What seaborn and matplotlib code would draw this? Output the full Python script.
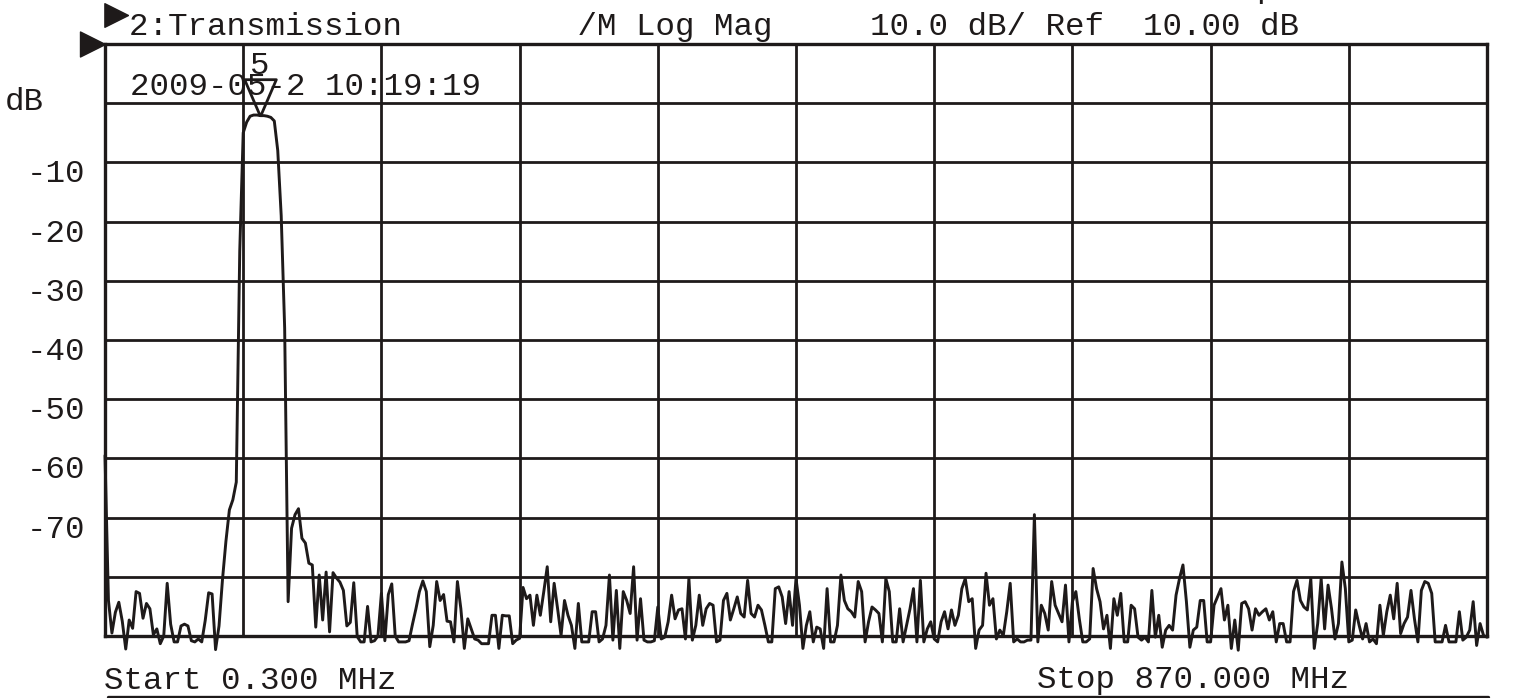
import numpy as np
import pandas as pd
import matplotlib
matplotlib.use('Agg')
import matplotlib.pyplot as plt
import seaborn as sns

# analyzer settings
start_mhz = 0.3
stop_mhz = 870.0
ref_db = 10.0
scale_db = 10.0
n_div = 10

header = '2:Transmission' + ' ' * 9 + '/M Log Mag' + ' ' * 5 + '10.0 dB/' + ' ' + 'Ref  10.00 dB'
stamp = '2009-05-2 10:19:19'
start_label = 'Start 0.300 MHz'
stop_label = 'Stop 870.000 MHz'
y_labels = ['-10', '-20', '-30', '-40', '-50', '-60', '-70']
y_label_values = [-10, -20, -30, -40, -50, -60, -70]
marker_index = 45
marker_name = '5'
trace_name = '2'

# 401-point transmission trace, dB
trace_db = [
    -59.5, -84, -89.5, -86, -84.3, -87.5, -92.2, -87.3, -88.7, -82.5,
    -82.8, -87, -84.5, -85.4, -89.8, -88.8, -91.3, -90, -81.1, -88,
    -91, -91, -88.3, -88, -88.3, -90.8, -91, -90.5, -91, -87.4,
    -82.7, -82.9, -92.3, -88.3, -80.5, -74, -68.7, -67, -64, -25,
    -5, -3.2, -2.2, -2.0, -2.0, -2.1, -2.1, -2.2, -2.4, -3.0,
    -8.0, -19, -38, -84.2, -71.8, -69.5, -68.5, -73.5, -74.3, -77.7,
    -78, -88.5, -79.7, -87.3, -79.2, -89.3, -79.3, -80.2, -80.9, -82.3,
    -88.3, -87.7, -81, -90.1, -91, -91, -85, -91, -90.8, -90,
    -82.8, -90.8, -83, -81.2, -90, -91, -91, -91, -90.8, -88,
    -85.4, -82.5, -80.7, -82.5, -91.8, -88.2, -80.8, -84, -83, -87.5,
    -87.6, -91, -80.8, -85.4, -92.1, -87.1, -88.8, -90.5, -90.7, -91.3,
    -91.3, -91.3, -86.5, -86.5, -92.1, -86.5, -86.6, -86.6, -91.3, -90.7,
    -90.4, -81.8, -83.7, -83.1, -88.2, -83.1, -86.5, -82.5, -78.3, -87.6,
    -81.1, -85.4, -89.9, -84, -86.5, -88.2, -92.1, -84.5, -91, -91,
    -91, -85.9, -85.9, -91, -90.5, -88.2, -79.7, -90.7, -82.3, -92.1,
    -82.5, -84, -86.2, -78.3, -90.7, -83.7, -90.7, -91, -91, -90.8,
    -85.1, -90.5, -90.2, -87.6, -83.1, -87.1, -85.6, -85.4, -90.5, -80.3,
    -90.7, -88.2, -83.1, -88.2, -85.4, -84.5, -84.8, -91, -90.7, -84,
    -82.8, -87.3, -85.4, -83.4, -86.2, -86.8, -80.6, -86.2, -86.8, -84.8,
    -85.6, -88.2, -91, -91, -82, -81.7, -83.4, -87.9, -82.5, -88.2,
    -80.3, -84.8, -92.1, -88.2, -85.9, -91, -88.5, -88.8, -92.1, -82,
    -91, -91, -88.2, -79.7, -84, -85.4, -85.9, -86.8, -80.8, -82.5,
    -91, -87.6, -85.1, -85.6, -86.2, -91, -80.3, -82.5, -91, -91,
    -85.4, -91, -88.2, -85.4, -82, -91, -80.6, -91, -88.8, -87.6,
    -90.5, -91, -87.6, -85.9, -88.8, -85.6, -88.2, -86.5, -82, -80.3,
    -84.2, -83.7, -92.1, -89, -88.2, -79.4, -84.8, -83.7, -90.5, -89,
    -89.9, -85.9, -81.1, -91, -90.5, -91, -91, -90.7, -90.7, -69.5,
    -91, -84.8, -86.2, -89, -80.8, -84.8, -86.2, -87.6, -81.4, -91,
    -84.2, -82.5, -87.1, -91, -91, -90.5, -78.6, -82, -84.2, -88.8,
    -86.5, -92.1, -83.7, -86.5, -82.8, -91, -91, -84.8, -85.4, -90.2,
    -90.7, -90.2, -91, -82.3, -90.2, -86.5, -91.9, -89, -88.2, -89,
    -83.1, -80.3, -78, -84.2, -91.9, -89, -88.5, -84, -84, -91,
    -91, -84.8, -83.4, -82, -87.3, -84.8, -92.1, -87.3, -92.4, -84.5,
    -84.2, -85.4, -89, -85.4, -86.5, -85.9, -85.4, -87.3, -85.9, -91,
    -87.9, -87.9, -91, -91, -82.5, -80.6, -84, -85.1, -85.6, -80.3,
    -92.1, -87.9, -80.3, -88.8, -81.4, -85.4, -90.5, -87.9, -77.5, -82,
    -91, -90.7, -85.6, -88.2, -90.5, -87.9, -91, -90.5, -91.3, -84.8,
    -89.9, -85.9, -83.1, -87.1, -81.1, -89.6, -87.9, -86.8, -82.3, -87.1,
    -91, -82.3, -80.8, -81.1, -82.8, -91, -91, -91, -88.2, -91,
    -91, -91, -85.9, -90.7, -90.2, -89, -84.2, -91.6, -87.9, -89.9,
    -90.2,
]

ink = '#1e1a1a'
W, H = 1520, 698

sns.set_style('white')
plt.rcParams['font.family'] = ['Liberation Mono', 'DejaVu Sans Mono']
fs = 23.4

df = pd.DataFrame({
    'freq': np.linspace(start_mhz, stop_mhz, len(trace_db)),
    'db': trace_db,
})

fig = plt.figure(figsize=(W / 100, H / 100), dpi=100)
ax = fig.add_axes([105 / W, 1 - 636 / H, (1487 - 105) / W, (636 - 44) / H])

sns.lineplot(data=df, x='freq', y='db', ax=ax, color=ink, lw=2.1,
             estimator=None, sort=False, clip_on=False, zorder=5)

bottom_db = ref_db - n_div * scale_db
ax.set_xlim(start_mhz, stop_mhz)
ax.set_ylim(bottom_db, ref_db)
ax.set_xticks(np.linspace(start_mhz, stop_mhz, n_div + 1))
ax.set_yticks(np.linspace(bottom_db, ref_db, n_div + 1))
ax.tick_params(length=0, labelbottom=False, labelleft=False)
ax.grid(True, color=ink, lw=2.0)
ax.set_axisbelow(True)
ax.set_xlabel('')
ax.set_ylabel('')
for sp in ax.spines.values():
    sp.set_color(ink)
    sp.set_linewidth(2.4)

# y labels sit a little under their grid lines
for lab, val in zip(y_labels, y_label_values):
    ax.annotate(lab, xy=(0, val), xycoords=('axes fraction', 'data'),
                xytext=(-20, -20), textcoords='offset pixels',
                ha='right', va='baseline', fontsize=fs, color=ink)
fig.text(5 / W, 1 - 110 / H, 'dB', fontsize=fs, color=ink, va='baseline')

# marker 5
tri_down = [(0, 0), (-0.43, 1), (0.43, 1), (0, 0)]
mx, my = df['freq'][marker_index], df['db'][marker_index]
ax.plot([mx], [my], marker=tri_down, ms=53, mfc='none', mec=ink, mew=2.0,
        clip_on=False, zorder=6)
ax.annotate(marker_name, xy=(mx, my), xytext=(-2, 42), textcoords='offset pixels',
            ha='center', va='baseline', fontsize=fs, color=ink)

# reference level arrow and channel arrow
tri_right = [(0, 0), (-1, 0.5), (-1, -0.5), (0, 0)]
ax.plot([start_mhz], [ref_db], marker=tri_right, ms=36, color=ink, mec=ink,
        clip_on=False, zorder=6)
ax.plot([128 / W], [1 - 15 / H], transform=fig.transFigure, marker=tri_right,
        ms=34, color=ink, mec=ink, clip_on=False)

# trace end label
ax.annotate(trace_name, xy=(stop_mhz, df['db'].iloc[-1]), xytext=(3, -10),
            textcoords='offset pixels', ha='left', va='baseline',
            fontsize=fs, color=ink)

fig.text(129 / W, 1 - 35 / H, header, fontsize=fs, color=ink, va='baseline')
fig.text(130 / W, 1 - 95 / H, stamp, fontsize=fs, color=ink, va='baseline', zorder=7)
fig.text(104 / W, 1 - 689 / H, start_label, fontsize=fs, color=ink, va='baseline')
fig.text(1037 / W, 1 - 688 / H, stop_label, fontsize=fs, color=ink, va='baseline')
fig.text(1256 / W, 1 + 3 / H, 'p', fontsize=fs, color=ink, va='baseline')

fig.add_artist(plt.Line2D([108 / W, 1488 / W], [1 - 696.5 / H] * 2, color=ink, lw=2.4))

fig.savefig('out.png', dpi=100, facecolor='white')
